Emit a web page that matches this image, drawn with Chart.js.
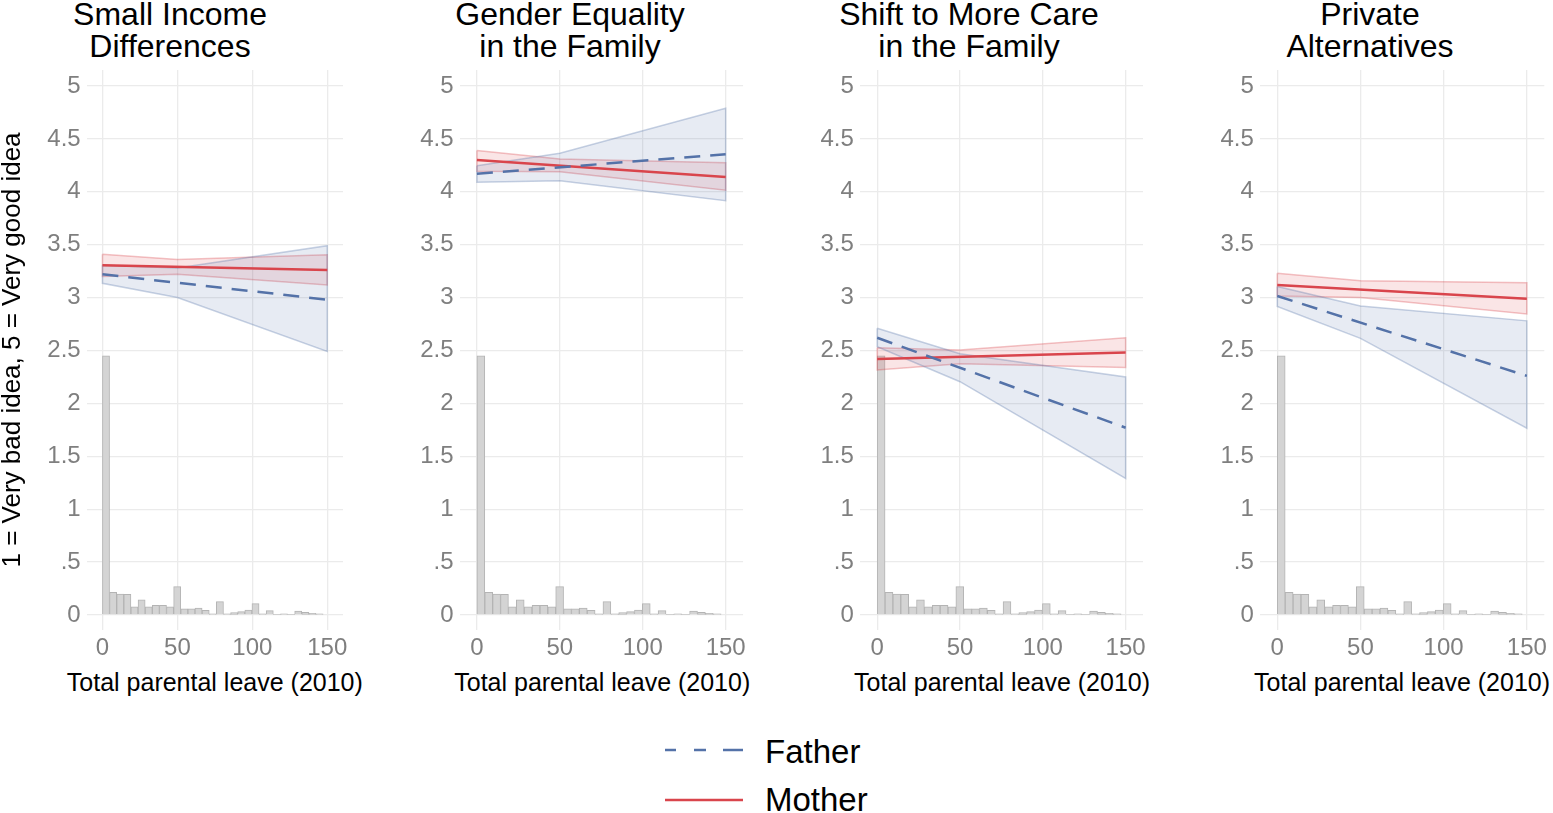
<!DOCTYPE html>
<html>
<head>
<meta charset="utf-8">
<script src="https://cdn.jsdelivr.net/npm/chart.js@4.4.0/dist/chart.umd.min.js"></script>
<style>
  body { margin: 0; background: #fff; width: 1553px; height: 813px; position: relative; overflow: hidden;
         font-family: "Liberation Sans", Arial, sans-serif; }
  canvas.panel { position: absolute; top: 0; }
  .ptitle { position: absolute; top: -2px; font-size: 32px; line-height: 32px; text-align: center;
            color: #000; transform: translateX(-50%); white-space: nowrap; }
  .xtitle { position: absolute; top: 667px; font-size: 25px; line-height: 30px; color: #000;
            transform: translateX(-50%); white-space: nowrap; }
  .ltext { position: absolute; left: 765px; font-size: 33px; line-height: 40px; color: #000; }
  #keys { position: absolute; left: 660px; top: 725px; }
</style>
</head>
<body>
<svg id="keys" width="90" height="100">
  <line x1="5" y1="25" x2="16" y2="25" stroke="#5472a8" stroke-width="2.5"/>
  <line x1="34" y1="25" x2="46" y2="25" stroke="#5472a8" stroke-width="2.5"/>
  <line x1="63" y1="25" x2="83" y2="25" stroke="#5472a8" stroke-width="2.5"/>
  <line x1="5" y1="75" x2="83" y2="75" stroke="#d9454c" stroke-width="2.5"/>
</svg>
<div class="ltext" style="top:732px">Father</div>
<div class="ltext" style="top:780px">Mother</div>

<script>
// histogram of total parental leave (bin centres and heights on the 0-5 axis)
const leaveBins = [2.38, 7.13, 11.88, 16.63, 21.38, 26.13, 30.88, 35.63, 40.38, 45.13, 49.88, 54.63, 59.38,
  64.13, 68.88, 73.63, 78.38, 83.13, 87.88, 92.63, 97.38, 102.13, 106.88, 111.63, 116.38, 121.13, 125.88,
  130.63, 135.38, 140.13, 144.88];
const leaveShare = [2.45, 0.214, 0.198, 0.195, 0.076, 0.142, 0.076, 0.091, 0.091, 0.076, 0.268, 0.057, 0.057,
  0.066, 0.044, 0.01, 0.126, 0.01, 0.022, 0.031, 0.047, 0.107, 0.01, 0.041, 0.003, 0.01, 0.003,
  0.038, 0.025, 0.016, 0.01];

const panelTitles = [
  ['Small Income', 'Differences'],
  ['Gender Equality', 'in the Family'],
  ['Shift to More Care', 'in the Family'],
  ['Private', 'Alternatives']
];
const xTitle = 'Total parental leave (2010)';
const yTitle = '1 = Very bad idea, 5 = Very good idea';

const lineX = [0, 150];
const bandX = [0, 50, 150];
const xTicks = [0, 50, 100, 150];
const yTicks = [0, 0.5, 1, 1.5, 2, 2.5, 3, 3.5, 4, 4.5, 5];

// predicted values (at lineX) and confidence bands (at bandX), one row per panel
const fatherFit = [[3.22, 2.98], [4.17, 4.355], [2.62, 1.77], [3.015, 2.26]];
const fatherLow = [[3.135, 3.0, 2.49], [4.09, 4.105, 3.915], [2.535, 2.205, 1.29], [2.915, 2.615, 1.765]];
const fatherHigh = [[3.305, 3.28, 3.49], [4.245, 4.365, 4.79], [2.71, 2.47, 2.25], [3.105, 2.92, 2.78]];
const motherFit = [[3.305, 3.26], [4.30, 4.14], [2.42, 2.48], [3.12, 2.99]];
const motherLow = [[3.20, 3.22, 3.12], [4.195, 4.19, 4.015], [2.315, 2.375, 2.34], [3.015, 3.0, 2.845]];
const motherHigh = [[3.41, 3.36, 3.405], [4.39, 4.31, 4.275], [2.525, 2.505, 2.62], [3.23, 3.16, 3.14]];

const FONT = '"Liberation Sans", Arial, sans-serif';
const BLUE = '#5472a8', RED = '#d9454c';

// canvas placement: chart area left = left + axisW, right = left + width - padR
const layout = [
  { left: 0, width: 353, axisW: 86.7, padR: 10, center: 170 },
  { left: 400, width: 350, axisW: 59.5, padR: 5, center: 570 },
  { left: 800, width: 350, axisW: 59.8, padR: 5.7, center: 969 },
  { left: 1200, width: 353, axisW: 59.8, padR: 8.7, center: 1370 }
];

function pts(xs, ys) { return xs.map((x, i) => ({ x: x, y: ys[i] })); }
function outline(lo, hi) {
  const up = pts(bandX, hi);
  const down = pts(bandX, lo).reverse();
  return up.concat(down, [up[0]]);
}

function bandSets(lo, hi, fill, edge) {
  return [
    { type: 'line', data: pts(bandX, hi), borderWidth: 0, pointRadius: 0, fill: false, order: 2 },
    { type: 'line', data: pts(bandX, lo), borderWidth: 0, pointRadius: 0, fill: '-1', backgroundColor: fill, order: 2 },
    { type: 'line', data: outline(lo, hi), borderColor: edge, borderWidth: 1.5, pointRadius: 0, fill: false, order: 2 }
  ];
}

layout.forEach((L, p) => {
  const t = document.createElement('div');
  t.className = 'ptitle';
  t.style.left = L.center + 'px';
  t.innerHTML = panelTitles[p].join('<br>');
  document.body.appendChild(t);

  const areaLeft = L.left + L.axisW;
  const areaRight = L.left + L.width - L.padR;
  const xt = document.createElement('div');
  xt.className = 'xtitle';
  xt.style.left = ((areaLeft + areaRight) / 2) + 'px';
  xt.textContent = xTitle;
  document.body.appendChild(xt);

  const cv = document.createElement('canvas');
  cv.className = 'panel';
  cv.width = L.width; cv.height = 700;
  cv.style.left = L.left + 'px';
  cv.style.width = L.width + 'px'; cv.style.height = '700px';
  document.body.appendChild(cv);

  const datasets = [
    { type: 'line', label: 'Father', data: pts(lineX, fatherFit[p]), borderColor: BLUE, borderWidth: 2.5,
      borderDash: [16, 10], pointRadius: 0, fill: false, order: 0 },
    { type: 'line', label: 'Mother', data: pts(lineX, motherFit[p]), borderColor: RED, borderWidth: 2.5,
      pointRadius: 0, fill: false, order: 0 },
    ...bandSets(fatherLow[p], fatherHigh[p], 'rgba(84,114,168,0.14)', 'rgba(84,114,168,0.32)'),
    ...bandSets(motherLow[p], motherHigh[p], 'rgba(217,69,76,0.14)', 'rgba(217,69,76,0.32)'),
    { type: 'bar', data: pts(leaveBins, leaveShare), backgroundColor: '#d4d4d4', borderColor: '#b4b4b4',
      borderWidth: 1, barPercentage: 1, categoryPercentage: 1, order: 3 }
  ];

  new Chart(cv, {
    type: 'line',
    data: { datasets: datasets },
    options: {
      responsive: false,
      animation: false,
      layout: { padding: { top: 70, right: L.padR, left: 0, bottom: 0 } },
      plugins: { legend: { display: false }, tooltip: { enabled: false } },
      scales: {
        x: {
          type: 'linear', min: -10.5, max: 160.5, offset: false,
          afterBuildTicks: s => { s.ticks = xTicks.map(v => ({ value: v })); },
          afterFit: s => { s.height = 70; },
          grid: { color: '#ebebeb', lineWidth: 1.3, drawTicks: false, offset: false },
          border: { display: false },
          ticks: { color: '#7f7f7f', font: { family: FONT, size: 24 }, padding: 4, maxRotation: 0 }
        },
        y: {
          type: 'linear', min: -0.142, max: 5.151,
          afterBuildTicks: s => { s.ticks = yTicks.map(v => ({ value: v })); },
          afterFit: s => { s.width = L.axisW; },
          grid: { color: '#ebebeb', lineWidth: 1.3, drawTicks: false },
          border: { display: false },
          ticks: { color: '#7f7f7f', font: { family: FONT, size: 24 }, padding: 6,
                   callback: v => v === 0 ? '0' : (v < 1 ? '.5' : String(v)) },
          title: { display: p === 0, text: yTitle, color: '#000',
                   font: { family: FONT, size: 26, lineHeight: 1 }, padding: { top: 0, bottom: 0 } }
        }
      }
    }
  });
});
</script>
</body>
</html>
